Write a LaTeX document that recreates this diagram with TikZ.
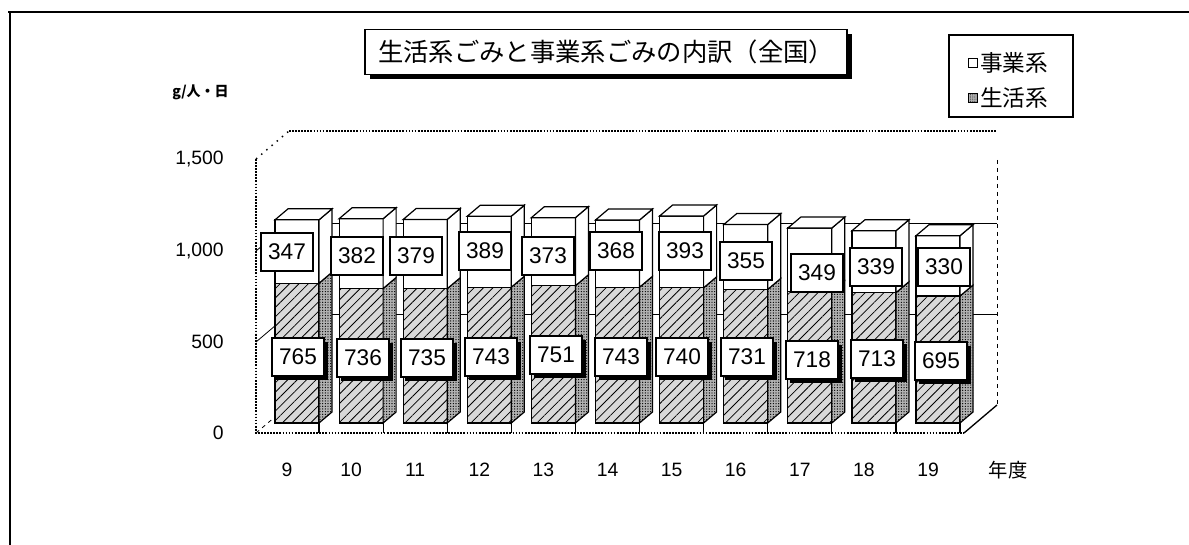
\documentclass[tikz,border=0pt]{standalone}
\usepackage{fontspec}
\setmainfont{Liberation Sans}
\newfontfamily\jpfont{Noto Sans CJK JP}
\usetikzlibrary{patterns.meta,shadows}

\begin{document}
\begin{tikzpicture}[x=0.75pt,y=-0.75pt,
    frameline/.style={line width=1.5pt},
    wall/.style={line width=1.3pt,densely dotted},
    gridline/.style={line width=0.6pt},
    barline/.style={draw=black,line width=0.9pt},
    lifeface/.style={barline,fill=gray!30,postaction={pattern={Lines[angle=45,distance=5pt,line width=0.6pt]},pattern color=black}},
    lifeside/.style={barline,fill=gray!60,postaction={pattern={Dots[distance=2pt,radius=0.5pt]},pattern color=black}},
    bizface/.style={barline,fill=white},
    toplabel/.style={draw,line width=1pt,fill=white,minimum width=39pt,minimum height=28.5pt,inner sep=0pt,font=\fontsize{17}{19}\selectfont},
    lowlabel/.style={toplabel,drop shadow={shadow xshift=3pt,shadow yshift=-3pt,fill=black,opacity=1}},
    axislabel/.style={anchor=east,inner sep=0pt,font=\fontsize{14.5}{16}\selectfont},
    catlabel/.style={inner sep=0pt,font=\fontsize{14.5}{16}\selectfont}]
    \useasboundingbox (0,0) rectangle (1189,545);
    % frame
    \draw[frameline] (8,12) -- (1189,12);
    \draw[frameline] (10,12) -- (10,545);
    % title and legend
    \node[draw,line width=1.2pt,fill=white,minimum width=361.5pt,minimum height=33.75pt,inner sep=0pt,
        drop shadow={shadow xshift=3.5pt,shadow yshift=-3.5pt,fill=black,opacity=1},
        font=\jpfont\fontsize{19}{21}\selectfont] (title) at (606,52) {生活系ごみと事業系ごみの内訳（全国）};
    \draw[line width=1pt] (949,35) rectangle (1073,117);
    \node[draw,fill=white,line width=0.8pt,minimum size=7pt,inner sep=0pt] (mbiz) at (973,63) {};
    \node[draw,fill=gray!60,line width=0.8pt,minimum size=7pt,inner sep=0pt,postaction={pattern={Dots[distance=1.6pt,radius=0.4pt]}}] (mlife) at (973,98) {};
    \node[anchor=west,inner sep=0pt,font=\jpfont\fontsize{17}{19}\selectfont] (lbiz) at (980,63) {事業系};
    \node[anchor=west,inner sep=0pt,font=\jpfont\fontsize{17}{19}\selectfont] (llife) at (980,98) {生活系};
    \node[anchor=west,inner sep=0pt,font=\jpfont\bfseries\fontsize{10.5}{12}\selectfont] (unit) at (172,92) {g/人・日};
    % axis labels
    \node[axislabel] (y1500) at (224,159) {1,500};
    \node[axislabel] (y1000) at (224,251) {1,000};
    \node[axislabel] (y500) at (224,342) {500};
    \node[axislabel] (y0) at (224,433) {0};
    \node[catlabel,font=\jpfont\fontsize{14.5}{16}\selectfont] (nendo) at (1008,470) {年度};
    % walls and grid
    \draw[gridline] (289,223) -- (997,223);
    \draw[gridline] (289,314) -- (997,314);
    \draw[gridline] (256,251) -- (289,223);
    \draw[gridline] (256,342) -- (289,314);
    \draw[gridline,dashed] (256,433) -- (289,405);
    \draw[wall] (289,131) -- (997,131);
    \draw[line width=1.1pt,loosely dotted] (256,159) -- (289,131);
    \draw[gridline,dashed] (997,160) -- (997,405);
    \draw[wall] (256,159) -- (256,433) -- (964,433);
    \draw[line width=1pt] (964,433) -- (997,405);
    % bars
    \foreach \n/\s/\b [count=\i from 0] in {9/765/347,10/736/382,11/735/379,12/743/389,13/751/373,14/743/368,
        15/740/393,16/731/355,17/718/349,18/713/339,19/695/330}{
        \pgfmathsetmacro\xa{275+64.1*\i}
        \pgfmathsetmacro\xb{\xa+44}
        \pgfmathsetmacro\ya{423-0.1827*\s}
        \pgfmathsetmacro\yb{423-0.1827*(\s+\b)}
        \draw[barline] (\xb,423) -- (\xb,433);
        \filldraw[lifeface] (\xa,423) rectangle (\xb,\ya);
        \filldraw[lifeside] (\xb,423) -- ++(13,-11) -- (\xb+13,\ya-11) -- (\xb,\ya) -- cycle;
        \filldraw[bizface] (\xa,\ya) rectangle (\xb,\yb);
        \filldraw[bizface] (\xb,\ya) -- ++(13,-11) -- (\xb+13,\yb-11) -- (\xb,\yb) -- cycle;
        \filldraw[bizface] (\xa,\yb) -- ++(13,-11) -- (\xb+13,\yb-11) -- (\xb,\yb) -- cycle;
        \node[catlabel] (cat\n) at ({287+64.1*\i},470) {\n};
    }
    % data labels
    \foreach \n/\s/\b/\tx/\ty/\bx/\by in {9/765/347/287/252/298/357,10/736/382/357/256/363/358,
        11/735/379/416/256/427/358,12/743/389/485/251/491/357,13/751/373/548/256/556/355,
        14/743/368/616/251/621/357,15/740/393/685/251/682/357,16/731/355/746/261/747/357,
        17/718/349/817/273/812/360,18/713/339/876/267/877/359,19/695/330/944/267/941/361}{
        \node[toplabel] (biz\n) at (\tx,\ty) {\b};
        \node[lowlabel] (life\n) at (\bx,\by) {\s};
    }
\end{tikzpicture}
\end{document}
